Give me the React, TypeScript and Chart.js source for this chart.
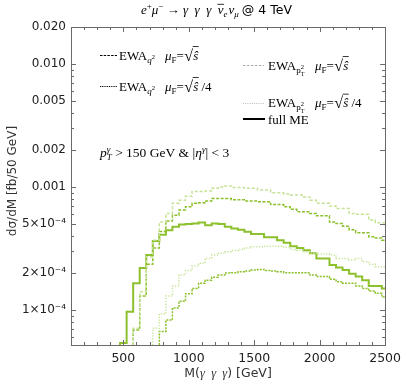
import React, { useEffect, useRef } from 'react';
import { Chart, registerables } from 'chart.js';

Chart.register(...registerables);

const W = 407;
const H = 382;
const X_MIN = 100;
const X_MAX = 2500;
const Y_MIN = 5.2e-5;
const Y_MAX = 0.02;
const BIN_WIDTH = 50;

// bin centres [GeV], 50 GeV wide
const massBins = [
  500, 550, 600, 650, 700, 750, 800, 850, 900, 950, 1000, 1050, 1100, 1150, 1200, 1250, 1300, 1350, 1400,
  1450, 1500, 1550, 1600, 1650, 1700, 1750, 1800, 1850, 1900, 1950, 2000, 2050, 2100, 2150, 2200, 2250,
  2300, 2350, 2400, 2450, 2500,
];

// dσ/dM [fb/50 GeV]
const fullME = [
  5.4e-5, 9.7e-5, 1.65e-4, 2.2e-4, 2.8e-4, 3.65e-4, 4.1e-4, 4.45e-4, 4.75e-4, 4.95e-4, 5.0e-4, 5.05e-4,
  5.15e-4, 4.9e-4, 5.06e-4, 5.0e-4, 4.75e-4, 4.6e-4, 4.5e-4, 4.33e-4, 4.15e-4, 4.15e-4, 3.9e-4, 3.9e-4,
  3.7e-4, 3.53e-4, 3.3e-4, 3.2e-4, 3.07e-4, 2.89e-4, 2.63e-4, 2.63e-4, 2.32e-4, 2.22e-4, 2.12e-4, 1.97e-4,
  1.87e-4, 1.75e-4, 1.57e-4, 1.57e-4, 1.5e-4,
];

const ewaPt2Shat = [
  null, null, 7.1e-5, 1.41e-4, 2.71e-4, 3.7e-4, 5.2e-4, 6.1e-4, 7.4e-4, 7.8e-4, 8.4e-4, 9.2e-4, 9.2e-4,
  9.3e-4, 9.77e-4, 1.0e-3, 1.02e-3, 9.9e-4, 9.9e-4, 9.77e-4, 9.77e-4, 9.45e-4, 9.45e-4, 8.98e-4, 8.98e-4,
  8.8e-4, 8.6e-4, 8.6e-4, 8.3e-4, 7.8e-4, 7.37e-4, 7.37e-4, 7.0e-4, 6.7e-4, 6.7e-4, 6.1e-4, 6.0e-4, 6.0e-4,
  5.4e-4, 5.13e-4, 5.13e-4,
];

const ewaQ2Shat = [
  null, null, 6.87e-5, 1.3e-4, 2.36e-4, 3.2e-4, 4.35e-4, 5.3e-4, 5.9e-4, 6.5e-4, 6.9e-4, 7.37e-4, 7.45e-4,
  7.7e-4, 8.07e-4, 8.07e-4, 8.07e-4, 7.9e-4, 7.9e-4, 7.7e-4, 7.7e-4, 7.6e-4, 7.6e-4, 7.2e-4, 7.2e-4, 6.9e-4,
  6.6e-4, 6.3e-4, 6.3e-4, 6.1e-4, 5.83e-4, 5.83e-4, 5.2e-4, 5.06e-4, 4.8e-4, 4.5e-4, 4.25e-4, 4.25e-4,
  3.94e-4, 3.85e-4, 3.7e-4,
];

const ewaPt2Shat4 = [
  null, null, null, null, null, 7.1e-5, 9.3e-5, 1.3e-4, 1.57e-4, 1.93e-4, 2.1e-4, 2.28e-4, 2.4e-4, 2.63e-4,
  2.8e-4, 2.9e-4, 2.98e-4, 3.05e-4, 3.11e-4, 3.2e-4, 3.27e-4, 3.27e-4, 3.3e-4, 3.3e-4, 3.3e-4, 3.25e-4,
  3.1e-4, 3.07e-4, 2.98e-4, 2.9e-4, 2.85e-4, 2.85e-4, 2.8e-4, 2.63e-4, 2.63e-4, 2.55e-4, 2.62e-4, 2.47e-4,
  2.36e-4, 2.25e-4, 2.25e-4,
];

const ewaQ2Shat4 = [
  null, null, null, null, null, null, 6.7e-5, 8.3e-5, 1.04e-4, 1.18e-4, 1.36e-4, 1.5e-4, 1.65e-4, 1.75e-4,
  1.85e-4, 1.93e-4, 2.0e-4, 2.01e-4, 2.05e-4, 2.08e-4, 2.12e-4, 2.14e-4, 2.1e-4, 2.08e-4, 2.05e-4, 2.01e-4,
  2.01e-4, 2.01e-4, 2.01e-4, 1.93e-4, 1.87e-4, 1.87e-4, 1.78e-4, 1.7e-4, 1.65e-4, 1.65e-4, 1.57e-4, 1.5e-4,
  1.43e-4, 1.37e-4, 1.28e-4,
];

const xTickValues = [500, 1000, 1500, 2000, 2500];
const xTickLabels = ['500', '1000', '1500', '2000', '2500'];
const yTickValues = [1e-4, 2e-4, 5e-4, 0.001, 0.002, 0.005, 0.01, 0.02];
const yTickLabels = ['1×10⁻⁴', '2×10⁻⁴', '5×10⁻⁴', '0.001', '0.002', '0.005', '0.010', '0.020'];

const SERIF = '"Liberation Serif", "DejaVu Serif", serif';
const SANS = '"DejaVu Sans", sans-serif';
const GREEN = '#8cc02c';
const LIGHT = '#c6e296';

function stepPoints(vals: (number | null)[]) {
  const pts: { x: number; y: number }[] = [];
  let started = false;
  massBins.forEach((c, i) => {
    const v = vals[i];
    if (v == null) return;
    const lo = c - BIN_WIDTH / 2;
    if (!started) {
      pts.push({ x: lo, y: Y_MIN });
      started = true;
    }
    pts.push({ x: lo, y: v });
  });
  const last = massBins[massBins.length - 1];
  pts.push({ x: Math.min(last + BIN_WIDTH / 2, X_MAX), y: vals[vals.length - 1] as number });
  return pts;
}

type Run = {
  t: string;
  size?: number;
  it?: boolean;
  fam?: string;
  dy?: number;
  dx?: number;
  noAdv?: boolean;
  bar?: number;
};

const FS = 13;

function drawRuns(ctx: CanvasRenderingContext2D, x: number, y: number, list: Run[]) {
  let cx = x;
  for (const r of list) {
    const size = r.size ?? FS;
    ctx.font = `${r.it ? 'italic ' : ''}${size}px ${r.fam ?? SERIF}`;
    const px = cx + (r.dx ?? 0);
    const py = y + (r.dy ?? 0);
    ctx.fillText(r.t, px, py);
    const w = ctx.measureText(r.t).width;
    if (r.bar) ctx.fillRect(px - 0.5, py - size * r.bar, w + 1, 0.8);
    if (!r.noAdv) cx = px + w;
  }
  return cx;
}

function sqrtShat(div: boolean): Run[] {
  const r: Run[] = [
    { t: 'μ', it: true },
    { t: 'F', size: 9, dy: 3 },
    { t: '=' },
    { t: '√', size: 16, dx: 0.5, dy: 1 },
    { t: 'ŝ', it: true, bar: 1.02 },
  ];
  if (div) r.push({ t: ' /4' });
  return r;
}

const framePlugin = {
  id: 'framePlugin',
  afterDraw(chart: any) {
    const ctx: CanvasRenderingContext2D = chart.ctx;
    const { left, right, top, bottom } = chart.chartArea;
    const xs = chart.scales.x;
    const ys = chart.scales.y;
    ctx.save();
    // frame
    ctx.strokeStyle = '#6a6a6a';
    ctx.lineWidth = 1;
    ctx.strokeRect(Math.round(left) + 0.5, Math.round(top) + 0.5, Math.round(right - left), Math.round(bottom - top));
    // x ticks
    const xt = (v: number, len: number) => {
      const px = Math.round(xs.getPixelForValue(v)) + 0.5;
      ctx.beginPath();
      ctx.moveTo(px, bottom);
      ctx.lineTo(px, bottom - len);
      ctx.moveTo(px, top);
      ctx.lineTo(px, top + len);
      ctx.stroke();
    };
    for (let v = 200; v < X_MAX; v += 100) xt(v, xTickValues.includes(v) ? 5 : 3);
    const yt = (v: number, len: number) => {
      const py = Math.round(ys.getPixelForValue(v)) + 0.5;
      ctx.beginPath();
      ctx.moveTo(left, py);
      ctx.lineTo(left + len, py);
      ctx.moveTo(right, py);
      ctx.lineTo(right - len, py);
      ctx.stroke();
    };
    for (let k = -5; k <= -2; k++) {
      for (let n = 1; n <= 9; n++) {
        const v = n * Math.pow(10, k);
        if (v <= Y_MIN || v >= Y_MAX * 0.999) continue;
        const major = yTickValues.some((t) => Math.abs(t - v) / t < 1e-6);
        yt(v, major ? 5 : 3);
      }
    }

    ctx.fillStyle = '#000';
    ctx.textBaseline = 'alphabetic';
    ctx.textAlign = 'left';

    // title
    const tb = 14;
    const cx = drawRuns(ctx, 141, tb, [
      { t: 'e', it: true, size: 13 },
      { t: '+', size: 9, dy: -5 },
      { t: 'μ', it: true, size: 13 },
      { t: '−', size: 9, dy: -5 },
      { t: ' → ', size: 13 },
      { t: 'γ  γ  γ  ', it: true, size: 13 },
      { t: 'ν', it: true, size: 13, bar: 0.78 },
      { t: 'e', it: true, size: 9, dy: 3 },
      { t: 'ν', it: true, size: 13, dx: 1 },
      { t: 'μ', it: true, size: 9, dy: 3 },
    ]);
    drawRuns(ctx, cx + 3, tb, [{ t: '@ 4 TeV', fam: SANS, size: 12.5 }]);

    // legend lines
    const legLine = (x0: number, x1: number, y: number, dash: number[], color: string, lw: number) => {
      ctx.save();
      ctx.strokeStyle = color;
      ctx.lineWidth = lw;
      ctx.setLineDash(dash);
      ctx.beginPath();
      ctx.moveTo(x0, y);
      ctx.lineTo(x1, y);
      ctx.stroke();
      ctx.restore();
    };
    legLine(100, 117, 55.5, [2.5, 1.2], '#000', 1);
    legLine(100, 117, 86.5, [1, 0.8], '#000', 1);
    legLine(243, 264, 65.5, [2.5, 1.5], '#aaa', 1);
    legLine(243, 264, 103.5, [1, 1.2], '#bbb', 1);
    legLine(243, 265, 119, [], '#000', 2);

    const q2: Run[] = [
      { t: 'EWA' },
      { t: 'q', it: true, size: 9, dy: 3 },
      { t: '2', size: 6.5, dy: -1 },
    ];
    const pt2: Run[] = [
      { t: 'EWA' },
      { t: 'p', size: 9, dy: 3 },
      { t: '2', size: 6.5, dy: -1, noAdv: true },
      { t: 'T', size: 6, dy: 6 },
    ];
    drawRuns(ctx, 119, 59.5, q2);
    drawRuns(ctx, 165, 59.5, sqrtShat(false));
    drawRuns(ctx, 119, 90.5, q2);
    drawRuns(ctx, 165, 90.5, sqrtShat(true));
    drawRuns(ctx, 268, 69.5, pt2);
    drawRuns(ctx, 315, 69.5, sqrtShat(false));
    drawRuns(ctx, 268, 107, pt2);
    drawRuns(ctx, 315, 107, sqrtShat(true));
    drawRuns(ctx, 268, 123.5, [{ t: 'full ME' }]);

    // cuts annotation
    drawRuns(ctx, 100, 157, [
      { t: 'p', it: true, size: 13.5 },
      { t: 'γ', it: true, size: 9, dy: -5, noAdv: true },
      { t: 'T', it: true, size: 9, dy: 3 },
      { t: ' > 150 GeV & |', size: 13.5 },
      { t: 'η', it: true, size: 13.5 },
      { t: 'γ', it: true, size: 9, dy: -5 },
      { t: '| < 3', size: 13.5 },
    ]);

    // axis titles
    ctx.fillStyle = '#333';
    ctx.save();
    ctx.translate(16, (top + bottom) / 2 - 5);
    ctx.rotate(-Math.PI / 2);
    ctx.font = `12px ${SANS}`;
    ctx.textAlign = 'center';
    ctx.fillText('dσ/dM [fb/50 GeV]', 0, 0);
    ctx.restore();

    ctx.textAlign = 'left';
    const xr: Run[] = [
      { t: 'M(', fam: SANS, size: 12.5 },
      { t: 'γ  γ  γ', it: true, size: 12.5 },
      { t: ') [GeV]', fam: SANS, size: 12.5 },
    ];
    let tw = 0;
    for (const r of xr) {
      ctx.font = `${r.it ? 'italic ' : ''}${r.size}px ${r.fam ?? SERIF}`;
      tw += ctx.measureText(r.t).width;
    }
    drawRuns(ctx, (left + right) / 2 - tw / 2, 377, xr);
    ctx.restore();
  },
};

export default function App() {
  const ref = useRef<HTMLCanvasElement | null>(null);
  useEffect(() => {
    if (!ref.current) return;
    const ds = (label: string, vals: (number | null)[], color: string, dash: number[], width: number) => ({
      label,
      data: stepPoints(vals),
      borderColor: color,
      backgroundColor: color,
      borderWidth: width,
      borderDash: dash,
      stepped: 'before' as const,
      pointRadius: 0,
      fill: false,
    });
    const chart = new Chart(ref.current, {
      type: 'line',
      data: {
        datasets: [
          ds('EWA pT2 mu=sqrt(s)', ewaPt2Shat, LIGHT, [3, 2], 1.5),
          ds('EWA pT2 mu=sqrt(s)/4', ewaPt2Shat4, LIGHT, [1.2, 1.6], 1.5),
          ds('EWA q2 mu=sqrt(s)', ewaQ2Shat, GREEN, [3, 1.5], 1.5),
          ds('EWA q2 mu=sqrt(s)/4', ewaQ2Shat4, GREEN, [2, 1.2], 1.5),
          ds('full ME', fullME, GREEN, [], 2),
        ],
      },
      options: {
        animation: false,
        responsive: false,
        layout: { padding: { left: 0, right: 18, top: 27, bottom: 0 } },
        plugins: {
          legend: { display: false },
          tooltip: { enabled: false },
          title: { display: false },
        },
        elements: { point: { radius: 0 }, line: { tension: 0 } },
        scales: {
          x: {
            type: 'linear',
            min: X_MIN,
            max: X_MAX,
            grid: { display: false, drawTicks: false },
            border: { display: false },
            ticks: {
              font: { family: SANS, size: 12.5 },
              color: '#222',
              padding: 6,
              maxRotation: 0,
              autoSkip: false,
              callback: (v: any) => {
                const i = xTickValues.indexOf(Number(v));
                return i >= 0 ? xTickLabels[i] : '';
              },
            },
            afterBuildTicks: (s: any) => {
              s.ticks = xTickValues.map((v) => ({ value: v }));
            },
            afterFit: (s: any) => {
              s.height = 37;
            },
          },
          y: {
            type: 'logarithmic',
            min: Y_MIN,
            max: Y_MAX,
            grid: { display: false, drawTicks: false },
            border: { display: false },
            ticks: {
              font: { family: SANS, size: 12 },
              color: '#222',
              padding: 5,
              autoSkip: false,
              callback: (v: any) => {
                const i = yTickValues.findIndex((t) => Math.abs(t - Number(v)) / t < 1e-6);
                return i >= 0 ? yTickLabels[i] : '';
              },
            },
            afterBuildTicks: (s: any) => {
              s.ticks = yTickValues.map((v) => ({ value: v }));
            },
            afterFit: (s: any) => {
              s.width = 71;
            },
          },
        },
      },
      plugins: [framePlugin],
    });
    return () => chart.destroy();
  }, []);

  return (
    <div style={{ position: 'absolute', left: 0, top: 0, width: W, height: H, background: '#fff' }}>
      <canvas ref={ref} width={W} height={H} style={{ display: 'block' }} />
    </div>
  );
}
